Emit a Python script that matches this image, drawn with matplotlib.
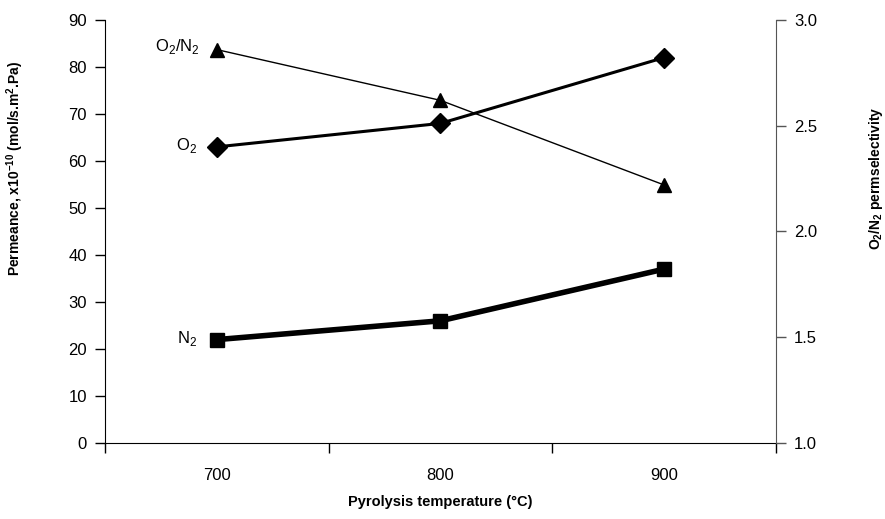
import matplotlib
matplotlib.use("Agg")
import matplotlib.pyplot as plt
from matplotlib.ticker import FixedLocator, NullFormatter

plt.rcParams["font.family"] = ["Liberation Sans", "DejaVu Sans"]
plt.rcParams["mathtext.fontset"] = "custom"
plt.rcParams["mathtext.rm"] = "Liberation Sans"
plt.rcParams["mathtext.bf"] = "Liberation Sans:bold"

# ── Data ───────────────────────────────────────────────────────
temperatures = ["700", "800", "900"]
o2_permeance = [63, 68, 82]
n2_permeance = [22, 26, 37]
selectivity = [2.86, 2.62, 2.22]

x = [1, 2, 3]

fig = plt.figure(figsize=(8.85, 5.19), dpi=100)
ax = fig.add_axes([0.1186, 0.1464, 0.7582, 0.8151])
ax2 = ax.twinx()

# permeance lines
ax.plot(x, o2_permeance, color="black", lw=2.2, marker="D", ms=10, zorder=3)
ax.plot(x, n2_permeance, color="black", lw=4, marker="s", ms=10, zorder=3)
# selectivity line
ax2.plot(x, selectivity, color="black", lw=1, marker="^", ms=10.5, zorder=3)

ax.set_xlim(0.5, 3.5)
ax.set_ylim(0, 90)
ax.set_yticks(range(0, 91, 10))
ax2.set_ylim(1.0, 3.0)
ax2.set_yticks([1.0, 1.5, 2.0, 2.5, 3.0])
ax2.set_yticklabels(["1.0", "1.5", "2.0", "2.5", "3.0"])

ax.xaxis.set_major_locator(FixedLocator(x))
ax.set_xticklabels(temperatures)
ax.xaxis.set_minor_locator(FixedLocator([0.5, 1.5, 2.5, 3.5]))
ax.xaxis.set_minor_formatter(NullFormatter())
ax.tick_params(axis="x", which="major", length=0, pad=18, labelsize=12)
ax.tick_params(axis="x", which="minor", length=7, width=1, direction="out")
ax.tick_params(axis="y", length=7, width=1, direction="out", labelsize=12, pad=6)
ax2.tick_params(axis="y", length=7, width=1, direction="out", labelsize=12,
                pad=6, color="#555555")

for a in (ax, ax2):
    a.spines["top"].set_visible(False)
ax.spines["right"].set_visible(False)
ax2.spines["left"].set_visible(False)
ax2.spines["bottom"].set_visible(False)
ax2.spines["right"].set_color("#555555")

ax.set_xlabel("Pyrolysis temperature (\u00b0C)", fontsize=10.5, fontweight="bold")
ax.xaxis.set_label_coords(0.5, -0.122)
ax.set_ylabel(r"Permeance, x10$^{\mathbf{-10}}$ (mol/s.m$^{\mathbf{2}}$.Pa)",
              fontsize=10, fontweight="bold")
ax.yaxis.set_label_coords(-0.118, 0.65)
ax2.set_ylabel(r"O$_{\mathbf{2}}$/N$_{\mathbf{2}}$ permselectivity",
               fontsize=10, fontweight="bold")
ax2.yaxis.set_label_coords(1.136, 0.626)

# series labels
ax2.annotate(r"O$_2$/N$_2$", (x[0], selectivity[0]), xytext=(-12, 2),
             textcoords="offset points", ha="right", va="center", fontsize=12)
ax.annotate(r"O$_2$", (x[0], o2_permeance[0]), xytext=(-14, 1),
            textcoords="offset points", ha="right", va="center", fontsize=12)
ax.annotate(r"N$_2$", (x[0], n2_permeance[0]), xytext=(-14, 1),
            textcoords="offset points", ha="right", va="center", fontsize=12)

fig.savefig("out.png", dpi=100)
